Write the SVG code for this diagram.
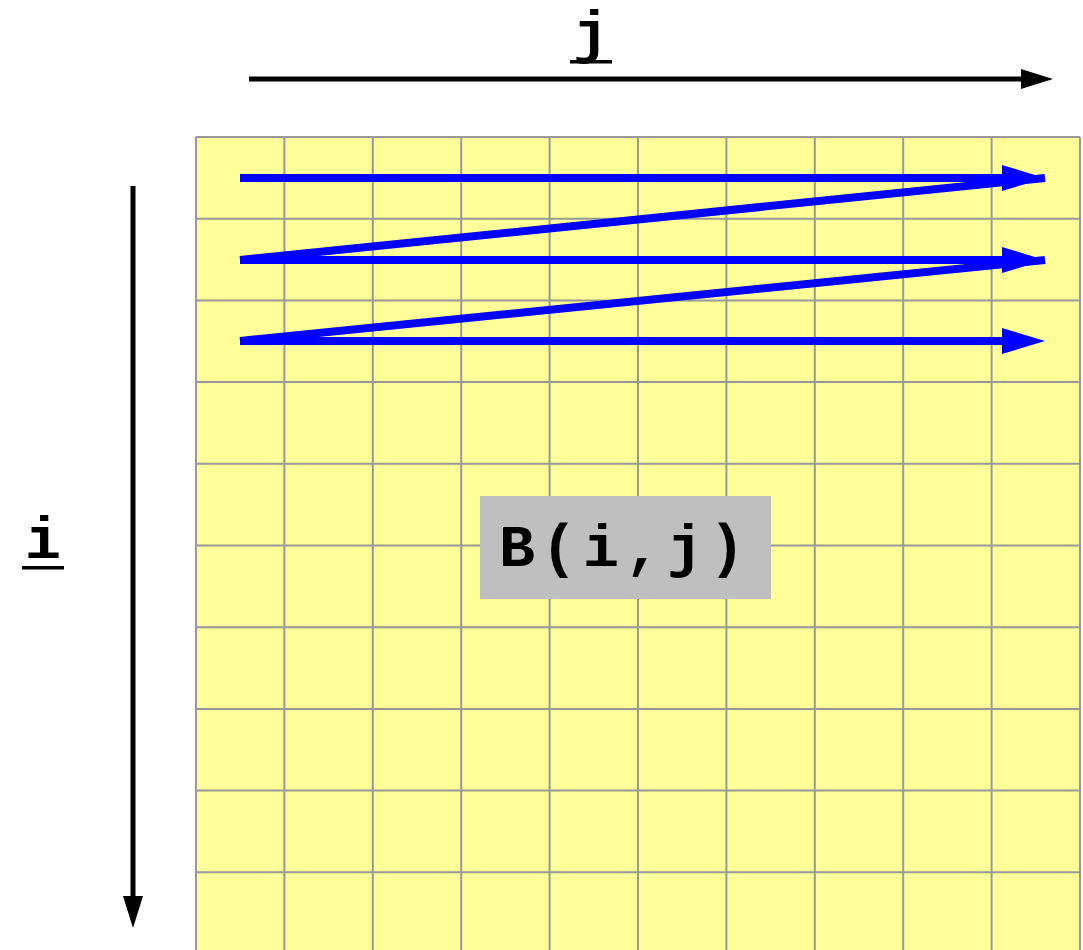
<svg xmlns="http://www.w3.org/2000/svg" width="1083" height="950" viewBox="0 0 1083 950">
<defs>
<style>
.grid{stroke:#999999;stroke-width:2;fill:none}
.lbl{font-family:"Liberation Mono","Courier New",monospace;font-weight:bold;fill:#000}
.blue{stroke:#0000FF;stroke-width:8;fill:none;stroke-linecap:butt}
.axis{stroke:#000;stroke-width:5;fill:none}
</style>
<marker id="bh" markerUnits="userSpaceOnUse" markerWidth="44" markerHeight="28" refX="0" refY="13" orient="auto"><path d="M0,0 L43,13 L0,26 Z" fill="#0000FF"/></marker>
<marker id="kh" markerUnits="userSpaceOnUse" markerWidth="34" markerHeight="22" refX="0" refY="10" orient="auto"><path d="M0,0 L32,10 L0,20 Z" fill="#000"/></marker>
</defs>
<g id="matrix">
<rect x="196" y="137" width="884" height="830" fill="#FFFF99"/>
<path class="grid" d="M196,137V950M284.4,137V950M372.8,137V950M461.2,137V950M549.6,137V950M638,137V950M726.4,137V950M814.8,137V950M903.2,137V950M991.6,137V950M1080,137V950M196,137H1080M196,218.7H1080M196,300.4H1080M196,382.1H1080M196,463.8H1080M196,545.5H1080M196,627.2H1080M196,708.9H1080M196,790.6H1080M196,872.3H1080"/>
</g>
<g id="label-B">
<rect x="480" y="496" width="291" height="103" fill="#BFBFBF"/>
<text class="lbl" x="625" y="566" font-size="60" text-anchor="middle" letter-spacing="6">B(i,j)</text>
</g>
<g id="label-j">
<text class="lbl" x="591" y="52" font-size="60" text-anchor="middle">j</text>
<rect x="570" y="60" width="42" height="3.5" fill="#000"/>
</g>
<g id="label-i">
<text class="lbl" x="43" y="558" font-size="60" text-anchor="middle">i</text>
<rect x="22" y="566" width="42" height="3.5" fill="#000"/>
</g>
<g id="connectors">
<line class="axis" x1="249" y1="79" x2="1021" y2="79" marker-end="url(#kh)"/>
<line class="axis" x1="133" y1="186" x2="133" y2="896" marker-end="url(#kh)"/>
<line class="blue" x1="240" y1="178" x2="1002" y2="178" marker-end="url(#bh)"/>
<line class="blue" x1="240" y1="260" x2="1002" y2="260" marker-end="url(#bh)"/>
<line class="blue" x1="240" y1="341" x2="1002" y2="341" marker-end="url(#bh)"/>
<line class="blue" x1="240" y1="260" x2="1045" y2="178"/>
<line class="blue" x1="240" y1="341" x2="1045" y2="260"/>
</g>
</svg>
